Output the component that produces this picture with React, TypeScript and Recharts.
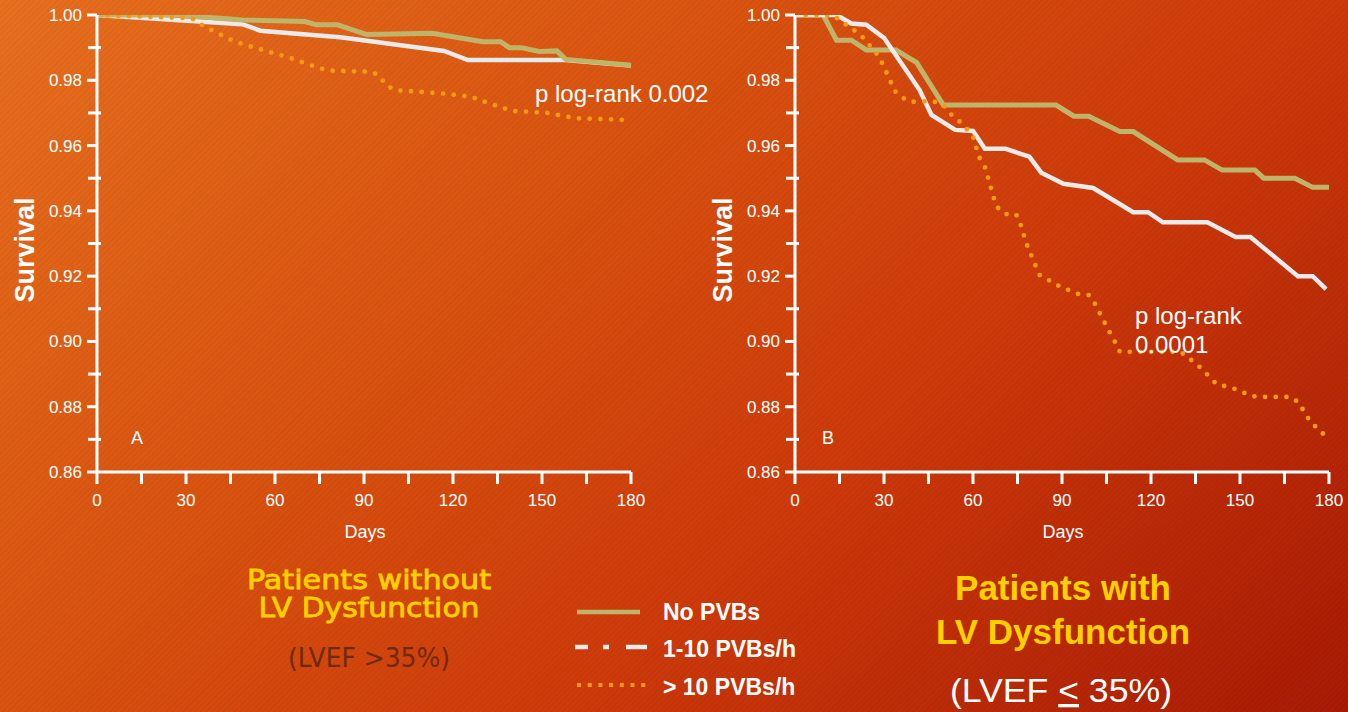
import React from "react";
import { LineChart, Line, XAxis, YAxis } from "recharts";

// days / survival
const dayTicks = [0, 15, 30, 45, 60, 75, 90, 105, 120, 135, 150, 165, 180];
const survivalTicks = [0.86, 0.87, 0.88, 0.89, 0.9, 0.91, 0.92, 0.93, 0.94, 0.95, 0.96, 0.97, 0.98, 0.99, 1.0];

// panel A: LVEF > 35%
const leftNoPvb = [
  [0, 1.0], [27, 1.0], [49, 0.9985], [70, 0.998], [74, 0.997], [81, 0.997], [91, 0.994],
  [113, 0.9944], [130, 0.9918], [136, 0.9918], [139, 0.99], [143, 0.99], [149, 0.9888],
  [155, 0.989], [158, 0.9864], [180, 0.9846],
];
const leftLowPvb = [
  [0, 1.0], [49, 0.9972], [55, 0.9952], [82, 0.9932], [117, 0.989], [125, 0.9862],
  [158, 0.9862], [180, 0.9845],
];
const leftHighPvb = [
  [0, 1.0], [32, 0.999], [36, 0.9966], [46, 0.992], [53, 0.99], [64, 0.9872], [74, 0.984],
  [78, 0.983], [92, 0.9826], [95, 0.9816], [97, 0.979], [100, 0.977], [116, 0.976],
  [126, 0.975], [132, 0.973], [140, 0.9706], [152, 0.97], [161, 0.9684], [180, 0.9678],
];

// panel B: LVEF <= 35%
const rightNoPvb = [
  [0, 1.0], [9.5, 1.0], [14, 0.9923], [19, 0.9923], [24, 0.9893], [34, 0.9893], [41, 0.9854],
  [50, 0.9724], [88, 0.9724], [94, 0.969], [99, 0.969], [109.5, 0.9643], [114, 0.9643],
  [129, 0.9556], [138, 0.9556], [144, 0.9525], [155, 0.9525], [158, 0.95], [168.5, 0.95],
  [174.5, 0.9472], [180, 0.9472],
];
const rightLowPvb = [
  [0, 1.0], [14, 1.0], [19, 0.9974], [24, 0.997], [30, 0.993], [42, 0.977], [46, 0.9694],
  [54, 0.9648], [60, 0.9645], [64, 0.959], [71, 0.959], [79, 0.9566], [83, 0.9517],
  [90.5, 0.9483], [100.5, 0.947], [114, 0.9396], [119, 0.9396], [124, 0.9365], [139, 0.9365],
  [148.5, 0.932], [153.5, 0.932], [169.5, 0.92], [174.5, 0.92], [179, 0.916],
];
const rightHighPvb = [
  [0, 1.0], [10, 1.0], [13, 0.9998], [16, 0.9978], [22, 0.994], [27, 0.9888], [29, 0.986],
  [32, 0.98], [33.5, 0.9768], [36, 0.9748], [39, 0.9734], [46.5, 0.9736], [50, 0.9724],
  [52, 0.97], [55, 0.9678], [57.5, 0.9655], [60, 0.9627], [61, 0.9597], [62, 0.9566],
  [64, 0.9535], [66, 0.9472], [67, 0.944], [68.5, 0.9408], [71, 0.939], [74.5, 0.939],
  [76, 0.936], [78, 0.93], [81, 0.9234], [82.5, 0.9203], [89, 0.917], [95.5, 0.9145],
  [99, 0.9142], [101, 0.9117], [104.5, 0.9055], [108, 0.8996], [109.5, 0.8968], [130, 0.8968],
  [134, 0.894], [137, 0.8917], [142, 0.887], [148.5, 0.8854], [152.5, 0.8838], [155.5, 0.883],
  [167, 0.883], [169.5, 0.8815], [171.5, 0.8787], [173.5, 0.8757], [176, 0.8734], [178.5, 0.8713],
];

const FONT = "'Liberation Sans', Arial, sans-serif";
const GREEN = "#BFB56A";
const WHITE = "#EBEBEB";
const ORANGE = "#F49A14";

const rows = (pts: number[][]) => pts.map(([d, s]) => ({ d, s }));

function YTick({ x, y, payload }: any) {
  const v = payload.value;
  const major = Math.round(v * 100) % 2 === 0;
  return (
    <g>
      <line x1={major ? x - 10 : x - 9} x2={major ? x : x + 4} y1={y} y2={y} stroke="#fff" strokeWidth={3} />
      {major && (
        <text x={x - 15} y={y + 6} textAnchor="end" fill="#fff" fontSize={17} fontFamily={FONT}>
          {v.toFixed(2)}
        </text>
      )}
    </g>
  );
}

function XTick({ x, y, payload }: any) {
  const v = payload.value;
  return (
    <g>
      <line x1={x} x2={x} y1={y} y2={y + 12} stroke="#fff" strokeWidth={3} />
      {v % 30 === 0 && (
        <text x={x} y={y + 34} textAnchor="middle" fill="#fff" fontSize={17} fontFamily={FONT}>
          {v}
        </text>
      )}
    </g>
  );
}

type PanelProps = {
  left: number;
  noPvb: number[][];
  lowPvb: number[][];
  highPvb: number[][];
  greenOnTop: boolean;
};

function Panel({ left, noPvb, lowPvb, highPvb, greenOnTop }: PanelProps) {
  const green = (
    <Line key="g" data={rows(noPvb)} dataKey="s" type="linear" stroke={GREEN} strokeWidth={5}
      dot={false} isAnimationActive={false} />
  );
  const white = (
    <Line key="w" data={rows(lowPvb)} dataKey="s" type="linear" stroke={WHITE} strokeWidth={4.5}
      dot={false} isAnimationActive={false} />
  );
  return (
    <div style={{ position: "absolute", left, top: 0 }}>
      <LineChart width={660} height={560} margin={{ top: 15, right: 29, left: 0, bottom: 48 }}>
        <XAxis type="number" dataKey="d" domain={[0, 180]} ticks={dayTicks} interval={0}
          height={40} tickSize={0} tickMargin={0} tickLine={false} tick={<XTick />}
          axisLine={{ stroke: "#fff", strokeWidth: 3 }} allowDuplicatedCategory={false} />
        <YAxis type="number" dataKey="s" domain={[0.86, 1.0]} ticks={survivalTicks} interval={0}
          width={97} tickSize={0} tickMargin={0} tickLine={false} tick={<YTick />}
          axisLine={{ stroke: "#fff", strokeWidth: 3 }} allowDataOverflow />
        {greenOnTop ? [white, green] : [green, white]}
        <Line data={rows(highPvb)} dataKey="s" type="linear" stroke={ORANGE} strokeWidth={4.8}
          strokeDasharray="0 10.7" strokeLinecap="round" dot={false} isAnimationActive={false} />
      </LineChart>
    </div>
  );
}

export default function App() {
  const bg =
    "repeating-linear-gradient(135deg, rgba(0,0,0,0.035) 0px, rgba(0,0,0,0.035) 2px, rgba(255,255,255,0) 2px, rgba(255,255,255,0) 4px), " +
    "linear-gradient(137deg, #E8701F 0%, #D9520F 37%, #CE3A0A 63%, #A81A04 100%)";
  return (
    <div style={{ position: "absolute", left: 0, top: 0, width: 1348, height: 712, background: bg, overflow: "hidden" }}>
      <Panel left={0} noPvb={leftNoPvb} lowPvb={leftLowPvb} highPvb={leftHighPvb} greenOnTop />
      <Panel left={698} noPvb={rightNoPvb} lowPvb={rightLowPvb} highPvb={rightHighPvb} greenOnTop={false} />
      <svg width={1348} height={712} style={{ position: "absolute", left: 0, top: 0, pointerEvents: "none" }}
        fontFamily={FONT}>
        {/* axis titles */}
        <text transform="translate(34,250) rotate(-90)" textAnchor="middle" fill="#fff" fontSize={27} fontWeight="bold">
          Survival
        </text>
        <text transform="translate(732,250) rotate(-90)" textAnchor="middle" fill="#fff" fontSize={27} fontWeight="bold">
          Survival
        </text>
        <text x={365} y={538} textAnchor="middle" fill="#fff" fontSize={18}>Days</text>
        <text x={1063} y={538} textAnchor="middle" fill="#fff" fontSize={18}>Days</text>
        <text x={137} y={444} textAnchor="middle" fill="#fff" fontSize={18}>A</text>
        <text x={828} y={444} textAnchor="middle" fill="#fff" fontSize={18}>B</text>

        {/* p values */}
        <text x={535} y={102} fill="#fff" fontSize={24}>p log-rank 0.002</text>
        <text x={1135} y={324} fill="#fff" fontSize={24}>p log-rank</text>
        <text x={1135} y={353} fill="#fff" fontSize={24}>0.0001</text>

        {/* panel captions */}
        <g fontFamily="'DejaVu Sans', Verdana, sans-serif" fill="#FFD000" fontSize={26} stroke="#FFD000"
          strokeWidth={0.8} lengthAdjust="spacingAndGlyphs">
          <text x={369} y={589} textAnchor="middle" textLength={244} lengthAdjust="spacingAndGlyphs">Patients without</text>
          <text x={369} y={617} textAnchor="middle" textLength={221} lengthAdjust="spacingAndGlyphs">LV Dysfunction</text>
        </g>
        <text x={369} y={667} textAnchor="middle" fill="#6E2A0C" fontSize={27}
          fontFamily="'DejaVu Sans Condensed', 'DejaVu Sans', sans-serif" textLength={162} lengthAdjust="spacingAndGlyphs">
          (LVEF &gt;35%)
        </text>
        <g fill="#FFD000" fontSize={35} fontWeight="bold">
          <text x={1063} y={600} textAnchor="middle">Patients with</text>
          <text x={1063} y={644} textAnchor="middle">LV Dysfunction</text>
        </g>
        <text x={1061} y={702} textAnchor="middle" fill="#fff" fontSize={33} textLength={222} lengthAdjust="spacingAndGlyphs">
          (LVEF <tspan style={{ textDecoration: "underline" }}>&lt;</tspan> 35%)
        </text>

        {/* legend */}
        <line x1={577} x2={640} y1={612} y2={612} stroke={GREEN} strokeWidth={4.5} />
        <line x1={575} x2={588} y1={647} y2={647} stroke={WHITE} strokeWidth={4.5} />
        <line x1={603} x2={609} y1={647} y2={647} stroke={WHITE} strokeWidth={4.5} />
        <line x1={626} x2={647} y1={647} y2={647} stroke={WHITE} strokeWidth={4.5} />
        <line x1={577} x2={648} y1={685} y2={685} stroke={ORANGE} strokeWidth={4} strokeDasharray="4 6.7" />
        <g fill="#fff" fontSize={23} fontWeight="bold">
          <text x={663} y={620}>No PVBs</text>
          <text x={663} y={657}>1-10 PVBs/h</text>
          <text x={663} y={695}>&gt; 10 PVBs/h</text>
        </g>
      </svg>
    </div>
  );
}
